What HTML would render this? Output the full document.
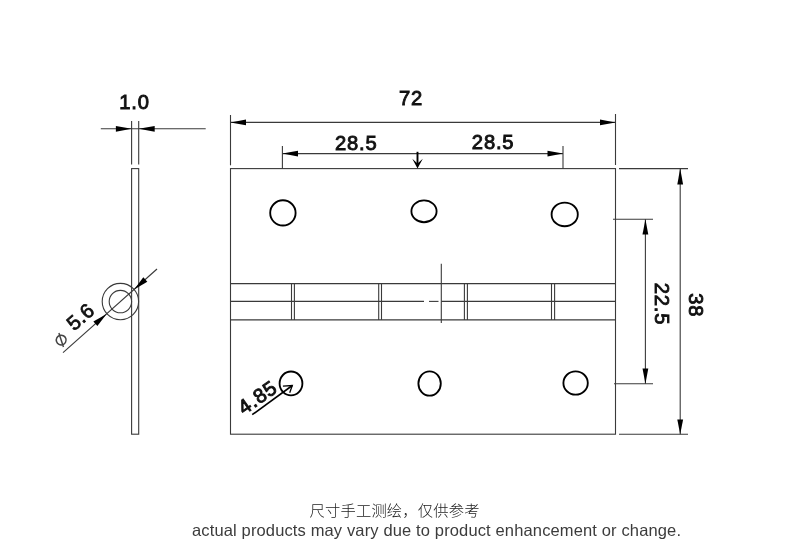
<!DOCTYPE html>
<html lang="zh">
<head>
<meta charset="utf-8">
<title>Hinge dimensions</title>
<style>
html,body{margin:0;padding:0;background:#fff;}
body{width:800px;height:553px;overflow:hidden;}
svg{display:block;will-change:transform;}
.t{font-family:"Liberation Sans","Noto Sans CJK SC",sans-serif;font-size:20.2px;fill:#111;stroke:#111;stroke-width:0.9px;letter-spacing:0.8px;}
.ln{stroke:#3a3a3a;stroke-width:1.1;fill:none;}
.hole{stroke:#000;stroke-width:1.85;fill:none;}
.ar{fill:#000;stroke:none;}
.cn{font-family:"Liberation Sans","Noto Sans CJK SC",sans-serif;font-weight:300;font-size:15.3px;fill:#222;}
.en{font-family:"Liberation Sans","Noto Sans CJK SC",sans-serif;font-size:16.5px;fill:#3c3c3c;}
</style>
</head>
<body>
<svg width="800" height="553" viewBox="0 0 800 553">
<rect width="800" height="553" fill="#fff"/>

<!-- side view -->
<g class="ln">
  <line x1="100.8" y1="128.8" x2="205.7" y2="128.8"/>
  <line x1="131.6" y1="121" x2="131.6" y2="164.6"/>
  <line x1="138.7" y1="121" x2="138.7" y2="164.6"/>
  <rect x="131.6" y="168.6" width="7.1" height="265.6"/>
  <circle cx="120.4" cy="301.6" r="18.2"/>
  <circle cx="120.4" cy="301.6" r="11.2"/>
  <line x1="63" y1="352.6" x2="157" y2="269"/>
</g>
<polygon class="ar" points="131.6,128.8 115.9,125.9 115.9,131.7"/>
<polygon class="ar" points="138.7,128.8 154.7,125.9 154.7,131.7"/>
<polygon class="ar" points="0,0 -15,-3 -15,3" transform="translate(106.6,313.9) rotate(-41.6)"/>
<polygon class="ar" points="0,0 15,-3 15,3" transform="translate(134.1,289.4) rotate(-41.6)"/>

<!-- front view -->
<g class="ln">
  <rect x="230.5" y="168.6" width="385" height="265.6"/>
  <line x1="230.5" y1="283.6" x2="615.5" y2="283.6"/>
  <line x1="230.5" y1="319.9" x2="615.5" y2="319.9"/>
  <line x1="230.5" y1="301.4" x2="424" y2="301.4"/>
  <line x1="429" y1="301.4" x2="438.5" y2="301.4"/>
  <line x1="441.3" y1="301.4" x2="615.5" y2="301.4"/>
  <line x1="441.3" y1="263.8" x2="441.3" y2="322.9"/>
  <line x1="291.5" y1="283.6" x2="291.5" y2="319.9"/>
  <line x1="294.4" y1="283.6" x2="294.4" y2="319.9"/>
  <line x1="378.7" y1="283.6" x2="378.7" y2="319.9"/>
  <line x1="381.5" y1="283.6" x2="381.5" y2="319.9"/>
  <line x1="464.4" y1="283.6" x2="464.4" y2="319.9"/>
  <line x1="467.4" y1="283.6" x2="467.4" y2="319.9"/>
  <line x1="551.5" y1="283.6" x2="551.5" y2="319.9"/>
  <line x1="554.6" y1="283.6" x2="554.6" y2="319.9"/>
  <!-- 72 -->
  <line x1="230.5" y1="115" x2="230.5" y2="165.3"/>
  <line x1="615.5" y1="114" x2="615.5" y2="165"/>
  <line x1="230.5" y1="122.4" x2="615.5" y2="122.4"/>
  <!-- 28.5 -->
  <line x1="282.4" y1="146" x2="282.4" y2="169"/>
  <line x1="563" y1="146" x2="563" y2="169"/>
  <line x1="282.4" y1="153.6" x2="563" y2="153.6"/>
  <!-- 38 -->
  <line x1="619" y1="168.6" x2="688" y2="168.6"/>
  <line x1="619" y1="434.2" x2="688" y2="434.2"/>
  <line x1="680.2" y1="168.6" x2="680.2" y2="434.2"/>
  <!-- 22.5 -->
  <line x1="613" y1="219.2" x2="653" y2="219.2"/>
  <line x1="614" y1="383.8" x2="653" y2="383.8"/>
  <line x1="645.4" y1="219.2" x2="645.4" y2="383.8"/>
</g>
<polygon class="ar" points="230.5,122.4 246,119.6 246,125.2"/>
<polygon class="ar" points="615.5,122.4 600,119.6 600,125.2"/>
<polygon class="ar" points="282.4,153.6 298,150.8 298,156.4"/>
<polygon class="ar" points="563,153.6 547.5,150.8 547.5,156.4"/>
<polygon class="ar" points="680.2,168.6 677.3,184.4 683.1,184.4"/>
<polygon class="ar" points="680.2,434.2 677.3,419.4 683.1,419.4"/>
<polygon class="ar" points="645.4,219.2 642.5,234.6 648.3,234.6"/>
<polygon class="ar" points="645.4,383.8 642.5,368.4 648.3,368.4"/>

<line x1="417.5" y1="151.8" x2="417.5" y2="165" stroke="#000" stroke-width="1.9"/>
<polygon class="ar" points="412.3,158.8 417.5,168.4 422.8,158.8 417.5,163.6"/>
<g class="hole">
  <ellipse cx="282.9" cy="212.9" rx="12.7" ry="12.6"/>
  <ellipse cx="424" cy="211.3" rx="12.6" ry="10.9"/>
  <ellipse cx="564.7" cy="214.4" rx="13.1" ry="11.8"/>
  <ellipse cx="291" cy="383.4" rx="11.4" ry="11.9"/>
  <ellipse cx="429.6" cy="383.5" rx="11.2" ry="12.2"/>
  <ellipse cx="575.6" cy="383" rx="12.2" ry="11.7"/>
</g>
<!-- 4.85 leader -->
<g stroke="#000" stroke-width="1.6" fill="none">
  <line x1="252.2" y1="414.7" x2="292.3" y2="385.5"/>
  <polyline points="282.9,386.2 292.3,385.5 289.7,392.7" stroke-width="1.3"/>
</g>

<!-- dimension texts -->
<text class="t" text-anchor="middle" transform="translate(134.5,108.7)">1.0</text>
<text class="t" text-anchor="middle" transform="translate(411.1,105.3)">72</text>
<text class="t" text-anchor="middle" transform="translate(356.2,149.5)">28.5</text>
<text class="t" text-anchor="middle" transform="translate(493.1,149)">28.5</text>
<text class="t" text-anchor="middle" transform="translate(655.1,304) rotate(90)">22.5</text>
<text class="t" text-anchor="middle" transform="translate(689.1,305.2) rotate(90)">38</text>
<text class="t" text-anchor="middle" style="letter-spacing:0.2px;stroke-width:0.75px" transform="translate(85,322) rotate(-41.6)">5.6</text>
<text x="0" y="5" text-anchor="middle" transform="translate(61.4,340.3) rotate(-63)" style="font-family:'DejaVu Sans','Liberation Sans',sans-serif;font-size:21.5px;fill:#444">&#8960;</text>
<text class="t" text-anchor="middle" transform="translate(261.5,403) rotate(-35)">4.85</text>

<!-- captions -->
<text class="cn" x="309.5" y="516.3" textLength="170" lengthAdjust="spacing">尺寸手工测绘，仅供参考</text>
<text class="en" x="192" y="535.8" textLength="489" lengthAdjust="spacing">actual products may vary due to product enhancement or change.</text>
</svg>
</body>
</html>
